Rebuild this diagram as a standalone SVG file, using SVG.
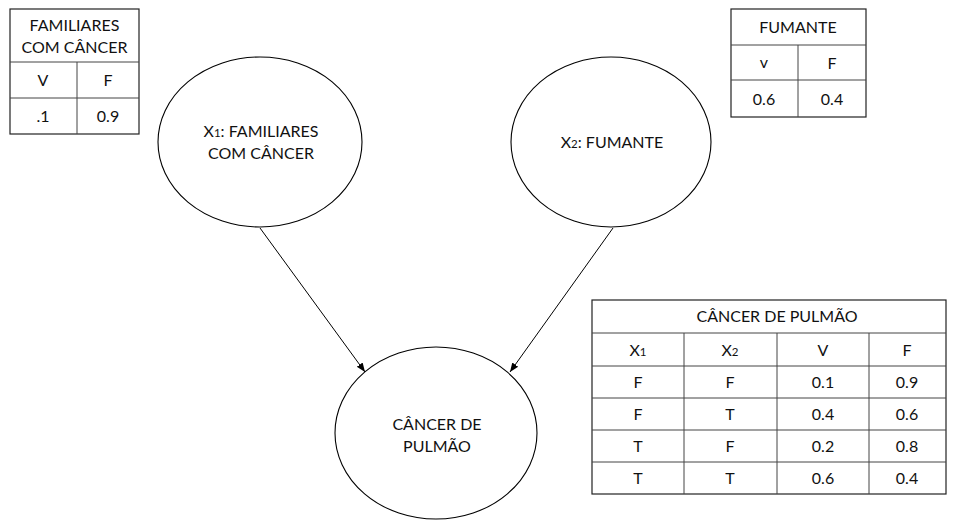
<svg xmlns="http://www.w3.org/2000/svg" width="954" height="522" viewBox="0 0 954 522">
  <style>
    .bg { fill: #ffffff; }
    .node { fill: #ffffff; stroke: #000000; stroke-width: 1.1; }
    .edge { fill: none; stroke: #000000; stroke-width: 1; }
    .tbl { fill: #ffffff; stroke: #222222; stroke-width: 1.2; }
    .grid { fill: none; stroke: #444444; stroke-width: 1; }
    text { font-family: Lato, "Open Sans", "Liberation Sans", sans-serif; font-size: 16px; fill: #111111; text-anchor: middle; }
    .sub { font-size: 11.5px; }
  </style>
  <defs>
    <marker id="arrow" viewBox="0 0 10 10" refX="10" refY="5" markerWidth="9" markerHeight="9" markerUnits="userSpaceOnUse" orient="auto">
      <path d="M0,1 L10,5 L0,9 Z" fill="#000000"/>
    </marker>
  </defs>
  <rect class="bg" x="0" y="0" width="954" height="522"/>

  <!-- connectors -->
  <g id="connectors">
    <line class="edge" x1="260" y1="228" x2="365" y2="372" marker-end="url(#arrow)"/>
    <line class="edge" x1="613" y1="228" x2="510" y2="372" marker-end="url(#arrow)"/>
  </g>

  <!-- nodes -->
  <g id="node-x1">
    <ellipse class="node" cx="260" cy="142" rx="102" ry="85"/>
    <text x="261" y="137">X<tspan class="sub">1</tspan>: FAMILIARES</text>
    <text x="261" y="159">COM CÂNCER</text>
  </g>
  <g id="node-x2">
    <ellipse class="node" cx="611" cy="142" rx="100" ry="85"/>
    <text x="612" y="148">X<tspan class="sub">2</tspan>: FUMANTE</text>
  </g>
  <g id="node-cancer">
    <ellipse class="node" cx="436" cy="433" rx="101" ry="86"/>
    <text x="437" y="430">CÂNCER DE</text>
    <text x="437" y="452">PULMÃO</text>
  </g>

  <!-- probability table: familiares com câncer -->
  <g id="table-x1">
    <rect class="tbl" x="10" y="9" width="129" height="125"/>
    <line class="grid" x1="10" y1="62" x2="139" y2="62"/>
    <line class="grid" x1="10" y1="98" x2="139" y2="98"/>
    <line class="grid" x1="77" y1="62" x2="77" y2="134"/>
    <text x="74.5" y="31">FAMILIARES</text>
    <text x="74.5" y="53">COM CÂNCER</text>
    <text x="43" y="86">V</text>
    <text x="108" y="86">F</text>
    <text x="43" y="122">.1</text>
    <text x="108" y="122">0.9</text>
  </g>

  <!-- probability table: fumante -->
  <g id="table-x2">
    <rect class="tbl" x="731" y="9" width="135" height="108"/>
    <line class="grid" x1="731" y1="45" x2="866" y2="45"/>
    <line class="grid" x1="731" y1="80" x2="866" y2="80"/>
    <line class="grid" x1="798" y1="45" x2="798" y2="117"/>
    <text x="798" y="33">FUMANTE</text>
    <text x="764" y="68">v</text>
    <text x="832" y="69">F</text>
    <text x="764" y="105">0.6</text>
    <text x="832" y="105">0.4</text>
  </g>

  <!-- conditional table: câncer de pulmão -->
  <g id="table-cancer">
    <rect class="tbl" x="592" y="300" width="354" height="194"/>
    <line class="grid" x1="592" y1="333" x2="946" y2="333"/>
    <line class="grid" x1="592" y1="366" x2="946" y2="366"/>
    <line class="grid" x1="592" y1="398" x2="946" y2="398"/>
    <line class="grid" x1="592" y1="430" x2="946" y2="430"/>
    <line class="grid" x1="592" y1="462" x2="946" y2="462"/>
    <line class="grid" x1="684" y1="333" x2="684" y2="494"/>
    <line class="grid" x1="777" y1="333" x2="777" y2="494"/>
    <line class="grid" x1="869" y1="333" x2="869" y2="494"/>
    <text x="777" y="322">CÂNCER DE PULMÃO</text>
    <text x="638" y="356">X<tspan class="sub">1</tspan></text>
    <text x="730" y="356">X<tspan class="sub">2</tspan></text>
    <text x="823" y="356">V</text>
    <text x="907" y="356">F</text>
    <text x="638" y="388">F</text>
    <text x="730" y="388">F</text>
    <text x="823" y="388">0.1</text>
    <text x="907" y="388">0.9</text>
    <text x="638" y="420">F</text>
    <text x="730" y="420">T</text>
    <text x="823" y="420">0.4</text>
    <text x="907" y="420">0.6</text>
    <text x="638" y="452">T</text>
    <text x="730" y="452">F</text>
    <text x="823" y="452">0.2</text>
    <text x="907" y="452">0.8</text>
    <text x="638" y="484">T</text>
    <text x="730" y="484">T</text>
    <text x="823" y="484">0.6</text>
    <text x="907" y="484">0.4</text>
  </g>
</svg>
